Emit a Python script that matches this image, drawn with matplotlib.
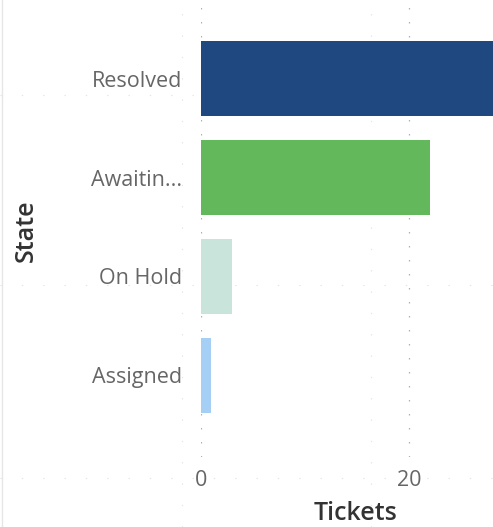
import matplotlib.pyplot as plt
from matplotlib.lines import Line2D

plt.rcParams['font.family'] = ['Open Sans', 'DejaVu Sans']

# Tickets per state
states = ['Resolved', 'Awaitin...', 'On Hold', 'Assigned']
tickets = [28, 22, 3, 1]
bar_colors = ['#1F4880', '#62B85B', '#C9E5DB', '#A6CFF5']
x_ticks = [0, 20]

W, H = 493, 527
fig = plt.figure(figsize=(W / 100, H / 100), dpi=100)
fig.patch.set_facecolor('white')

# faint canvas grid behind the visual
for yy in [95, 285, 478]:
    fig.add_artist(Line2D([0, 1], [1 - yy / H] * 2, transform=fig.transFigure,
                          color='#e4e4e4', lw=0.8, ls=(0, (1.2, 18)), zorder=-1))
for xx in [182, 371]:
    fig.add_artist(Line2D([xx / W] * 2, [0, 1], transform=fig.transFigure,
                          color='#e4e4e4', lw=0.8, ls=(0, (1.2, 18)), zorder=-1))
fig.add_artist(Line2D([1.5 / W] * 2, [0, 1], transform=fig.transFigure,
                      color='#e6e6e6', lw=1, zorder=-1))

ax = fig.add_axes([201 / W, 1 - 457 / H, 292 / W, 457 / H])
ax.set_facecolor('none')

ypos = list(range(len(states)))
ax.barh(ypos, tickets, height=0.76, color=bar_colors, zorder=3)

ax.set_xlim(0, 28.04)
ax.set_ylim(3.83, -0.80)

ax.set_xticks(x_ticks)
ax.set_xticklabels([str(t) for t in x_ticks], fontsize=15.5, color='#666666')
ax.set_yticks(ypos)
ax.set_yticklabels(states, fontsize=15.5, color='#666666')
ax.tick_params(axis='x', length=0, pad=9)
ax.tick_params(axis='y', length=0, pad=13.5)

ax.grid(axis='x', color='#b0b0b0', lw=0.9, ls=(0, (1.2, 10)), zorder=0)
ax.grid(axis='y', visible=False)
for s in ax.spines.values():
    s.set_visible(False)

fig.text(356 / W, 1 - 513 / H, 'Tickets', ha='center', va='center',
         fontsize=18, color='#333333', fontweight='semibold')
fig.text(26 / W, 1 - 231 / H, 'State', ha='center', va='center', rotation=90,
         fontsize=18, color='#333333', fontweight='semibold')

fig.savefig('out.png', dpi=100, facecolor='white')
